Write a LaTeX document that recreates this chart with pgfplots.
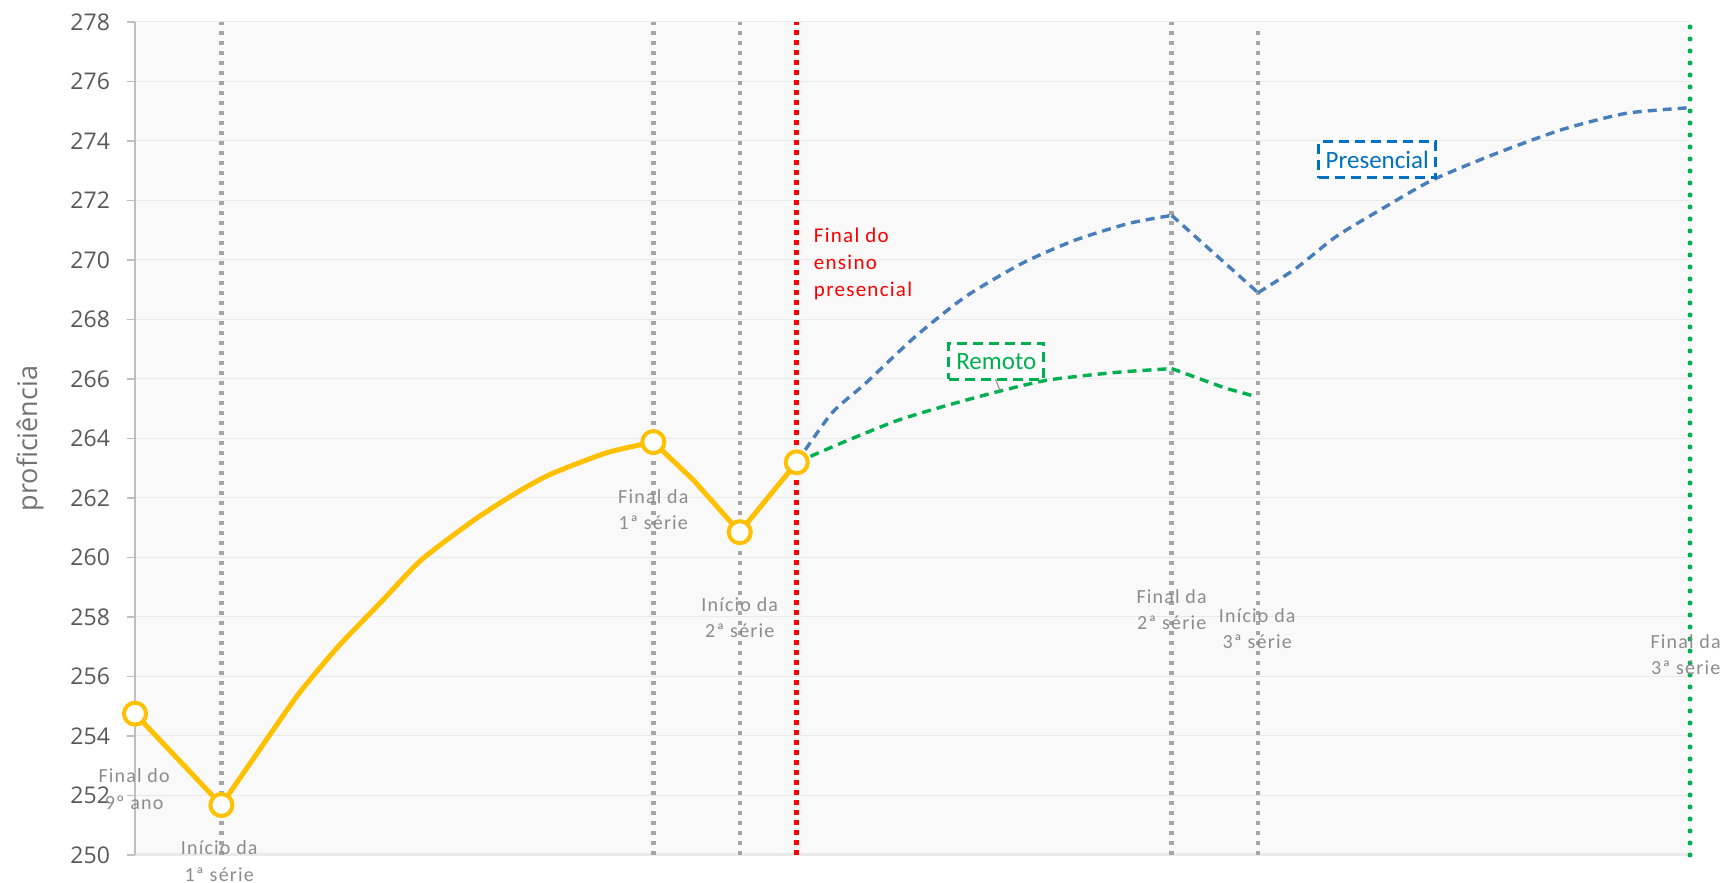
\documentclass[border=0pt]{standalone}
\usepackage{fontspec}
\setmainfont{Carlito}
\newfontfamily\tickfont{Open Sans}
\newfontfamily\lab[LetterSpace=6]{Carlito}
\usepackage{pgfplots}
\pgfplotsset{compat=1.18}

\definecolor{amarelo}{HTML}{FFC000}
\definecolor{azul}{HTML}{4A7EBB}
\definecolor{azultxt}{HTML}{0070C0}
\definecolor{verde}{HTML}{00B050}
\definecolor{vermelho}{HTML}{FF0000}
\definecolor{cinza}{HTML}{A5A5A5}
\definecolor{cinzatxt}{HTML}{8C8C8C}
\definecolor{ticktxt}{HTML}{595959}
\definecolor{fundo}{HTML}{F9F9F9}
\definecolor{grade}{HTML}{EAEAEA}
\definecolor{eixo}{HTML}{BFBFBF}

\begin{document}
\begin{tikzpicture}
\useasboundingbox (0,0) rectangle (862pt,441.5pt);
\begin{axis}[
    at={(67.5pt,14pt)}, anchor=south west,
    scale only axis,
    width=777.5pt, height=416.5pt,
    xmin=0, xmax=36, ymin=250, ymax=278,
    xtick=\empty,
    ytick={250,252,...,278},
    axis x line*=bottom, axis y line*=left,
    axis line style={-},
    x axis line style={draw=grade, line width=1.5pt},
    y axis line style={draw=eixo, line width=0.6pt},
    tick align=outside, major tick length=4pt,
    tick style={draw=eixo, line width=0.6pt},
    ymajorgrids, grid style={draw=grade, line width=0.5pt},
    axis background/.style={fill=fundo},
    /pgf/number format/assume math mode=true,
    yticklabel style={font=\tickfont\fontsize{11.5}{12}\selectfont, text=ticktxt, xshift=-5pt},
    ylabel={proficiência},
    ylabel style={font=\tickfont\fontsize{13.5}{14}\selectfont, text=ticktxt!85,
        at={(axis description cs:-0.0675,0.5)}, anchor=center},
    clip=false,
    serie/.style={line width=1.7pt, dash pattern=on 4.5pt off 3pt, smooth, tension=0.4},
    cinzav/.style={cinza, line width=2.2pt, dash pattern=on 2.2pt off 2.8pt},
]
% linhas de referencia
\addplot[cinzav] coordinates {(2,250) (2,278)};
\addplot[cinzav] coordinates {(12,250) (12,278)};
\addplot[cinzav] coordinates {(14,250) (14,278)};
\addplot[cinzav] coordinates {(24,250) (24,278)};
\addplot[cinzav] coordinates {(26,250) (26,277.8)};

% presencial
\addplot[azul, serie] coordinates {
(15.32,263.2) (16.13,264.85) (16.91,265.85) (18.06,267.42) (19.22,268.76)
(20.54,269.89) (21.77,270.67) (23.01,271.23) (24.0,271.5)};
\addplot[azul, serie, sharp plot] coordinates {(24.0,271.5) (26.0,268.9)};
\addplot[azul, serie] coordinates {
(26.0,268.9) (26.87,269.71) (27.80,270.78) (28.88,271.73) (30.04,272.69)
(31.51,273.58) (33.05,274.39) (34.52,274.93) (36,275.12)};

% remoto
\addplot[verde, serie] coordinates {
(15.32,263.2) (16.52,263.95) (17.68,264.62) (18.84,265.13) (20.07,265.61)
(21.16,265.97) (22.70,266.22) (24.0,266.35)};
\addplot[verde, serie, sharp plot] coordinates {(24.0,266.35) (25.25,265.69) (25.95,265.41)};

% observado
\addplot[amarelo, line width=2.5pt, line join=round] coordinates {
(0,254.75) (2,251.68)};
\addplot[amarelo, line width=2.5pt, smooth, tension=0.4] coordinates {
(2,251.68) (2.77,253.3) (3.77,255.38) (4.70,257.0) (5.70,258.51)
(6.63,259.92) (7.87,261.28) (8.87,262.21) (9.64,262.81) (10.92,263.52)
(12,263.88)};
\addplot[amarelo, line width=2.5pt, line join=round] coordinates {
(12,263.88) (12.93,262.6) (14,260.85) (15.32,263.2)};
\addplot[only marks, mark=*, mark size=5.5pt,
    mark options={draw=amarelo, fill=white, line width=2pt}] coordinates {
(0,254.75) (2,251.68) (12,263.88) (14,260.85) (15.32,263.2)};

\addplot[vermelho, line width=2.5pt, dash pattern=on 2.5pt off 2.5pt] coordinates {(15.32,250) (15.32,278)};
\addplot[verde, line width=2.5pt, line cap=round, dash pattern=on 0pt off 6pt] coordinates {(36,250) (36,278)};

% rotulos
\begin{scope}[every node/.style={font=\lab\fontsize{10}{13.2}\selectfont, text=cinzatxt, align=center, inner sep=0pt}]
\node at (axis cs:-0.02,252.22) {Final do\\9º ano};
\node at (axis cs:1.95,249.8) {Início da\\1ª série};
\node at (axis cs:12.0,261.61) {Final da\\1ª série};
\node at (axis cs:14.0,257.97) {Início da\\2ª série};
\node at (axis cs:24.0,258.24) {Final da\\2ª série};
\node at (axis cs:25.98,257.6) {Início da\\3ª série};
\node at (axis cs:35.9,256.73) {Final da\\3ª série};
\end{scope}
\node[font=\lab\fontsize{10.5}{13.3}\selectfont, text=vermelho, align=left, anchor=west, inner sep=0pt]
    at (axis cs:15.71,269.87) {Final do\\ensino\\presencial};

\draw[cinzatxt, line width=0.5pt] (axis cs:19.92,266.0) -- (axis cs:20.03,265.6);
\node[draw=verde, fill=white, line width=1.5pt, dash pattern=on 5pt off 3pt,
    font=\fontsize{12.5}{13}\selectfont, text=verde,
    minimum width=47.5pt, minimum height=18pt, inner sep=1pt]
    at (axis cs:19.94,266.6) {Remoto};
\node[draw=azultxt, fill=white, line width=1.5pt, dash pattern=on 5pt off 3pt,
    font=\fontsize{12.5}{13}\selectfont, text=azultxt,
    minimum width=58.5pt, minimum height=18pt, inner sep=1pt]
    at (axis cs:28.76,273.37) {Presencial};
\end{axis}
\end{tikzpicture}
\end{document}
